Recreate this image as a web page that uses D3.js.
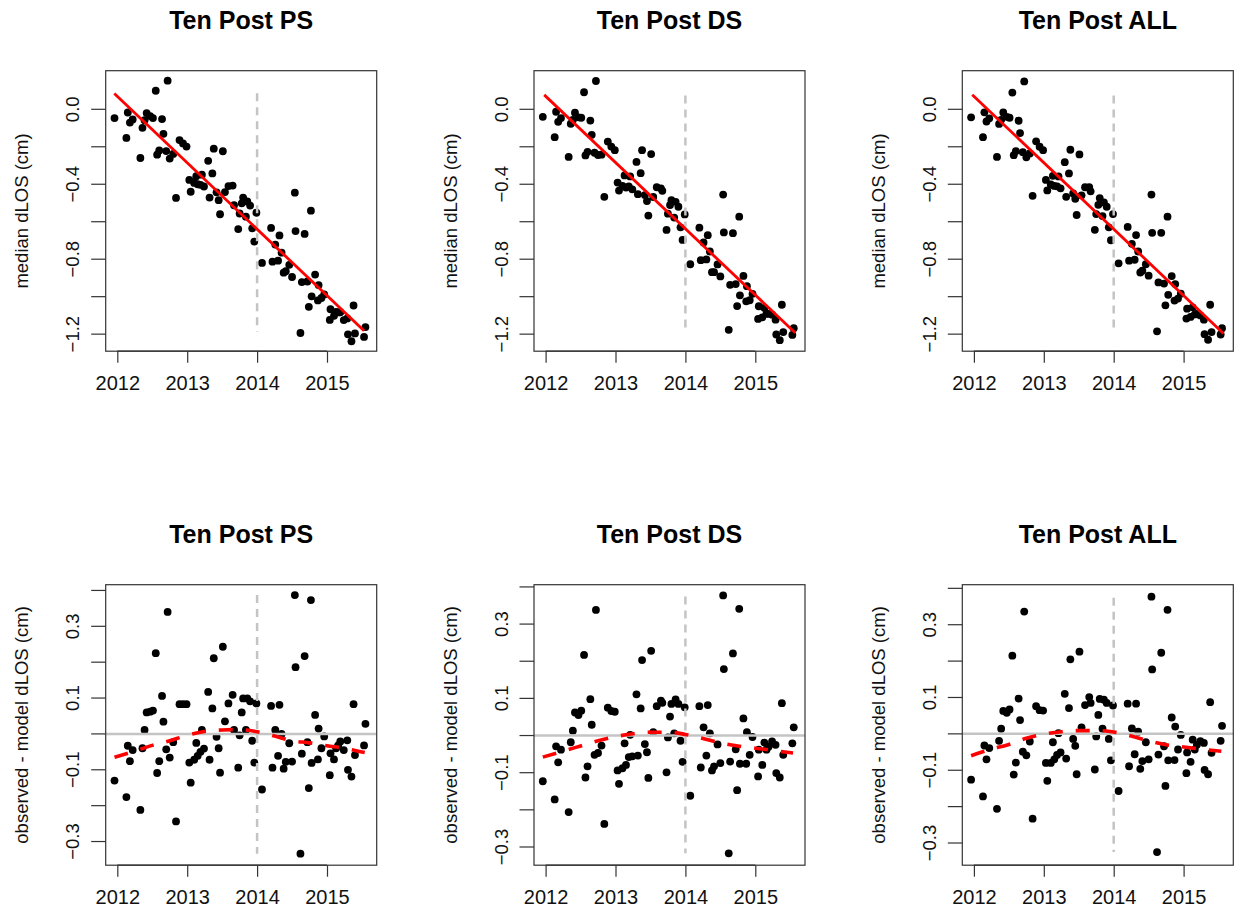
<!DOCTYPE html>
<html>
<head>
<meta charset="utf-8">
<script src="https://cdn.jsdelivr.net/npm/d3@7"></script>
<style>
  body { margin: 0; background: #ffffff; }
  svg { display: block; font-family: "Liberation Sans", Arial, sans-serif; }
</style>
</head>
<body>
<div id="chart"></div>
<script>
// Data
var titles = ["Ten Post PS", "Ten Post DS", "Ten Post ALL"];
var yearTicks = [2012, 2013, 2014, 2015];
var topTicks = [0.0, -0.2, -0.4, -0.6, -0.8, -1.0, -1.2];
var topTickLabels = [0.0, -0.4, -0.8, -1.2];
var resTicks = [0.4, 0.3, 0.2, 0.1, 0.0, -0.1, -0.2, -0.3];
var resTickLabels = [0.3, 0.1, -0.1, -0.3];

// acquisition dates (decimal years), shared by all panels
var dates = [2011.96, 2012.13, 2012.15, 2012.18, 2012.22, 2012.33, 2012.36, 2012.39, 2012.42, 2012.47,
    2012.51, 2012.55, 2012.57, 2012.60, 2012.64, 2012.66, 2012.70, 2012.72, 2012.75, 2012.80,
    2012.84, 2012.89, 2012.94, 2012.99, 2013.03, 2013.05, 2013.10, 2013.13, 2013.15, 2013.19,
    2013.21, 2013.24, 2013.30, 2013.32, 2013.36, 2013.38, 2013.42, 2013.45, 2013.47, 2013.51,
    2013.54, 2013.59, 2013.65, 2013.67, 2013.73, 2013.75, 2013.78, 2013.80, 2013.84, 2013.86,
    2013.90, 2013.93, 2013.96, 2013.99, 2014.07, 2014.20, 2014.22, 2014.26, 2014.30, 2014.32,
    2014.35, 2014.38, 2014.41, 2014.46, 2014.50, 2014.54, 2014.55, 2014.62, 2014.64, 2014.68,
    2014.72, 2014.74, 2014.77, 2014.78, 2014.83, 2014.87, 2014.88, 2014.92, 2014.96, 2015.04,
    2015.05, 2015.10, 2015.13, 2015.16, 2015.19, 2015.24, 2015.29, 2015.30, 2015.35, 2015.38,
    2015.40, 2015.53, 2015.55];

// median dLOS (cm)
var obsPS = [-0.047, -0.153, -0.017, -0.071, -0.054, -0.260, -0.099, -0.058, -0.020, -0.036,
    -0.047, 0.099, -0.242, -0.220, -0.052, -0.131, -0.223, 0.153, -0.263, -0.238,
    -0.473, -0.164, -0.182, -0.199, -0.377, -0.440, -0.393, -0.357, -0.400, -0.403,
    -0.349, -0.412, -0.275, -0.471, -0.342, -0.210, -0.443, -0.485, -0.560, -0.224,
    -0.442, -0.410, -0.407, -0.512, -0.639, -0.556, -0.502, -0.471, -0.573, -0.492,
    -0.514, -0.635, -0.706, -0.552, -0.820, -0.633, -0.813, -0.722, -0.808, -0.673,
    -0.765, -0.872, -0.864, -0.830, -0.895, -0.445, -0.650, -1.194, -0.922, -0.665,
    -0.919, -1.054, -0.541, -0.998, -0.882, -1.020, -0.938, -1.007, -0.988, -1.124,
    -1.067, -1.102, -1.081, -1.084, -1.083, -1.125, -1.116, -1.201, -1.238, -1.047,
    -1.196, -1.215, -1.162];
var obsDS = [-0.040, -0.149, -0.013, -0.067, -0.047, -0.254, -0.077, -0.057, -0.018, -0.043,
    -0.045, 0.091, -0.246, -0.227, -0.060, -0.136, -0.232, 0.151, -0.244, -0.242,
    -0.467, -0.172, -0.199, -0.218, -0.391, -0.434, -0.409, -0.353, -0.418, -0.411,
    -0.358, -0.427, -0.281, -0.453, -0.341, -0.218, -0.458, -0.490, -0.567, -0.239,
    -0.468, -0.416, -0.422, -0.435, -0.644, -0.557, -0.511, -0.485, -0.578, -0.494,
    -0.520, -0.630, -0.697, -0.561, -0.827, -0.632, -0.805, -0.711, -0.801, -0.672,
    -0.759, -0.869, -0.869, -0.828, -0.892, -0.455, -0.657, -1.177, -0.937, -0.661,
    -0.933, -1.050, -0.573, -0.993, -0.889, -1.025, -0.944, -1.019, -0.985, -1.119,
    -1.051, -1.110, -1.060, -1.090, -1.092, -1.096, -1.123, -1.202, -1.232, -1.043,
    -1.189, -1.204, -1.168];
var obsALL = [-0.043, -0.149, -0.016, -0.065, -0.048, -0.254, -0.078, -0.056, -0.017, -0.040,
    -0.045, 0.089, -0.245, -0.223, -0.061, -0.127, -0.229, 0.149, -0.256, -0.236,
    -0.462, -0.171, -0.200, -0.218, -0.377, -0.433, -0.401, -0.355, -0.409, -0.411,
    -0.358, -0.422, -0.282, -0.467, -0.342, -0.216, -0.449, -0.478, -0.564, -0.241,
    -0.459, -0.416, -0.415, -0.438, -0.643, -0.559, -0.510, -0.474, -0.570, -0.497,
    -0.520, -0.630, -0.699, -0.559, -0.822, -0.628, -0.808, -0.718, -0.803, -0.671,
    -0.759, -0.871, -0.861, -0.827, -0.888, -0.455, -0.659, -1.185, -0.924, -0.659,
    -0.930, -1.046, -0.573, -0.990, -0.890, -1.021, -0.933, -1.010, -0.984, -1.117,
    -1.064, -1.108, -1.057, -1.095, -1.092, -1.100, -1.123, -1.200, -1.230, -1.043,
    -1.189, -1.202, -1.168];

// observed - model dLOS (cm)
var resPS = [-0.130, -0.176, -0.033, -0.076, -0.045, -0.212, -0.040, 0.011, 0.060, 0.062,
    0.065, 0.225, -0.109, -0.076, 0.106, 0.034, -0.043, 0.340, -0.066, -0.023,
    -0.244, 0.083, 0.083, 0.083, -0.080, -0.136, -0.072, -0.025, -0.061, -0.050,
    0.011, -0.041, 0.117, -0.072, 0.071, 0.211, -0.008, -0.040, -0.108, 0.243,
    0.035, 0.085, 0.109, 0.011, -0.094, -0.004, 0.060, 0.099, 0.011, 0.099,
    0.091, -0.019, -0.080, 0.085, -0.155, 0.078, -0.094, 0.011, -0.061, 0.081,
    0.000, -0.097, -0.078, -0.026, -0.077, 0.387, 0.186, -0.334, -0.055, 0.217,
    -0.023, -0.151, 0.373, -0.081, 0.053, -0.071, 0.015, -0.040, -0.007, -0.115,
    -0.054, -0.071, -0.040, -0.032, -0.021, -0.045, -0.018, -0.100, -0.119, 0.083,
    -0.059, -0.032, 0.028];
var resDS = [-0.123, -0.172, -0.029, -0.072, -0.038, -0.206, -0.018, 0.013, 0.062, 0.055,
    0.067, 0.217, -0.113, -0.083, 0.098, 0.029, -0.052, 0.338, -0.047, -0.027,
    -0.238, 0.075, 0.066, 0.064, -0.094, -0.130, -0.088, -0.021, -0.079, -0.058,
    0.002, -0.056, 0.111, -0.054, 0.073, 0.203, -0.023, -0.045, -0.114, 0.228,
    0.009, 0.079, 0.094, 0.088, -0.099, -0.005, 0.051, 0.085, 0.006, 0.097,
    0.085, -0.014, -0.071, 0.076, -0.162, 0.079, -0.086, 0.022, -0.054, 0.082,
    0.006, -0.094, -0.083, -0.024, -0.074, 0.377, 0.179, -0.317, -0.070, 0.221,
    -0.037, -0.147, 0.341, -0.076, 0.046, -0.076, 0.009, -0.052, -0.004, -0.110,
    -0.038, -0.079, -0.019, -0.038, -0.030, -0.016, -0.025, -0.101, -0.113, 0.087,
    -0.052, -0.021, 0.022];
var resALL = [-0.126, -0.172, -0.032, -0.070, -0.039, -0.206, -0.019, 0.014, 0.063, 0.058,
    0.067, 0.215, -0.112, -0.079, 0.097, 0.038, -0.049, 0.336, -0.059, -0.021,
    -0.233, 0.076, 0.065, 0.064, -0.080, -0.129, -0.080, -0.023, -0.070, -0.058,
    0.002, -0.051, 0.110, -0.068, 0.071, 0.205, -0.014, -0.033, -0.111, 0.226,
    0.018, 0.079, 0.101, 0.085, -0.098, -0.007, 0.052, 0.096, 0.014, 0.094,
    0.085, -0.014, -0.073, 0.078, -0.157, 0.083, -0.089, 0.015, -0.056, 0.083,
    0.006, -0.096, -0.075, -0.023, -0.070, 0.377, 0.177, -0.325, -0.057, 0.223,
    -0.034, -0.143, 0.341, -0.073, 0.045, -0.072, 0.020, -0.043, -0.003, -0.108,
    -0.051, -0.077, -0.016, -0.043, -0.030, -0.020, -0.025, -0.099, -0.111, 0.087,
    -0.052, -0.019, 0.022];

// linear model (red line, top row): start and end
var trendYears = [[2011.957, 2015.53], [2011.98, 2015.57], [2011.976, 2015.57]];
var trendValues = [[0.084, -1.182], [0.077, -1.193], [0.078, -1.196]];

// smooth of the residuals (red dashed, bottom row)
var smoothYears = [2011.96, 2012.25, 2012.5, 2012.75, 2013.0, 2013.25, 2013.5, 2013.75,
    2014.0, 2014.25, 2014.5, 2014.75, 2015.0, 2015.25, 2015.54];
var smoothPS = [-0.065, -0.048, -0.032, -0.019, -0.004, 0.007, 0.011, 0.012,
    0.006, -0.006, -0.019, -0.025, -0.033, -0.040, -0.052];
var smoothDS = [-0.058, -0.042, -0.028, -0.014, -0.003, 0.005, 0.009, 0.009,
    0.003, -0.008, -0.020, -0.028, -0.034, -0.040, -0.047];
var smoothALL = [-0.060, -0.042, -0.029, -0.012, -0.001, 0.006, 0.009, 0.009,
    0.005, -0.006, -0.019, -0.030, -0.036, -0.042, -0.048];

// grey dashed marker at 2014 (from, to)
var markerYear = 2014;
var markerTop = [[0.085, -1.187], [0.073, -1.196], [0.073, -1.196]];
var markerBottom = [[0.387, -0.334], [0.374, -0.317], [0.374, -0.325]];

// Layout
var width = 1240, height = 920;
var panelLeft = [105.7, 534, 962.3];
var panelW = 271;
var rowTop = [70.7, 584.7];
var panelH = 280.5;
var xDomain = [2011.834, 2015.711];
var topDomain = [-1.291, 0.206];
var resDomains = [[-0.366, 0.416], [-0.349, 0.406], [-0.361, 0.410]];

var obsSets = [obsPS, obsDS, obsALL];
var resSets = [resPS, resDS, resALL];
var smoothSets = [smoothPS, smoothDS, smoothALL];

var svg = d3.select("#chart").append("svg")
    .attr("width", width)
    .attr("height", height);

svg.append("rect").attr("width", width).attr("height", height).attr("fill", "#ffffff");

function drawPanel(col, row) {
    var left = panelLeft[col], top = rowTop[row];
    var g = svg.append("g").attr("transform", "translate(" + left + "," + top + ")");

    var x = d3.scaleLinear().domain(xDomain).range([0, panelW]);
    var y = d3.scaleLinear()
        .domain(row === 0 ? topDomain : resDomains[col])
        .range([panelH, 0]);

    var values = row === 0 ? obsSets[col] : resSets[col];
    var pts = dates.map(function (d, i) { return [d, values[i]]; });

    // points
    g.append("g").selectAll("circle")
        .data(pts)
        .join("circle")
        .attr("cx", function (d) { return x(d[0]); })
        .attr("cy", function (d) { return y(d[1]); })
        .attr("r", 3.9)
        .attr("fill", "#000000");

    // reference lines
    var marker = row === 0 ? markerTop[col] : markerBottom[col];
    g.append("line")
        .attr("x1", x(markerYear)).attr("x2", x(markerYear))
        .attr("y1", y(marker[0])).attr("y2", y(marker[1]))
        .attr("stroke", "#c4c4c4")
        .attr("stroke-width", 2.5)
        .attr("stroke-dasharray", "8,6");

    if (row === 0) {
        var trend = trendYears[col].map(function (t, i) { return [t, trendValues[col][i]]; });
        g.append("path")
            .datum(trend)
            .attr("d", d3.line().x(function (d) { return x(d[0]); }).y(function (d) { return y(d[1]); }))
            .attr("fill", "none")
            .attr("stroke", "#ff0000")
            .attr("stroke-width", 2.8);
    } else {
        g.append("line")
            .attr("x1", 0).attr("x2", panelW)
            .attr("y1", y(0)).attr("y2", y(0))
            .attr("stroke", "#c4c4c4")
            .attr("stroke-width", 2.5);
        var sm = smoothYears.map(function (t, i) { return [t, smoothSets[col][i]]; });
        g.append("path")
            .datum(sm)
            .attr("d", d3.line().curve(d3.curveMonotoneX)
                .x(function (d) { return x(d[0]); }).y(function (d) { return y(d[1]); }))
            .attr("fill", "none")
            .attr("stroke", "#ff0000")
            .attr("stroke-width", 3.6)
            .attr("stroke-dasharray", "14,13");
    }

    // box
    g.append("rect")
        .attr("x", 0).attr("y", 0)
        .attr("width", panelW).attr("height", panelH)
        .attr("fill", "none")
        .attr("stroke", "#333333")
        .attr("stroke-width", 1.2);

    // x axis
    var xAxis = d3.axisBottom(x).tickValues(yearTicks).tickFormat(d3.format("d"))
        .tickSize(11.5).tickPadding(13);
    var gx = g.append("g").attr("transform", "translate(0," + panelH + ")").call(xAxis);
    gx.select(".domain").attr("d", "M" + x(yearTicks[0]) + ",0H" + x(yearTicks[yearTicks.length - 1]))
        .attr("stroke", "#333333").attr("stroke-width", 1.2);
    gx.selectAll(".tick line").attr("stroke", "#333333").attr("stroke-width", 1.2);
    gx.selectAll(".tick text")
        .attr("fill", "#111111")
        .style("font-size", "20px");

    // y axis (labels parallel to axis, like R)
    var ticks = row === 0 ? topTicks : resTicks;
    var labels = row === 0 ? topTickLabels : resTickLabels;
    var gy = g.append("g");
    gy.selectAll("line")
        .data(ticks)
        .join("line")
        .attr("x1", -14.5).attr("x2", 0)
        .attr("y1", function (d) { return y(d); })
        .attr("y2", function (d) { return y(d); })
        .attr("stroke", "#333333")
        .attr("stroke-width", 1.2);
    gy.selectAll("text")
        .data(labels)
        .join("text")
        .attr("transform", function (d) { return "translate(-26.5," + y(d) + ") rotate(-90)"; })
        .attr("text-anchor", "middle")
        .attr("fill", "#111111")
        .style("font-size", "18.5px")
        .text(function (d) { return d3.format(".1f")(d); });

    // y label
    g.append("text")
        .attr("transform", "translate(-77.5," + (panelH / 2) + ") rotate(-90)")
        .attr("text-anchor", "middle")
        .attr("fill", "#111111")
        .style("font-size", "18.5px")
        .text(row === 0 ? "median dLOS (cm)" : "observed - model dLOS (cm)");

    // title
    g.append("text")
        .attr("x", panelW / 2)
        .attr("y", -41.4)
        .attr("text-anchor", "middle")
        .attr("fill", "#000000")
        .style("font-size", "25px")
        .style("font-weight", "bold")
        .text(titles[col]);
}

for (var r = 0; r < 2; r++) {
    for (var c = 0; c < 3; c++) {
        drawPanel(c, r);
    }
}
</script>
</body>
</html>
